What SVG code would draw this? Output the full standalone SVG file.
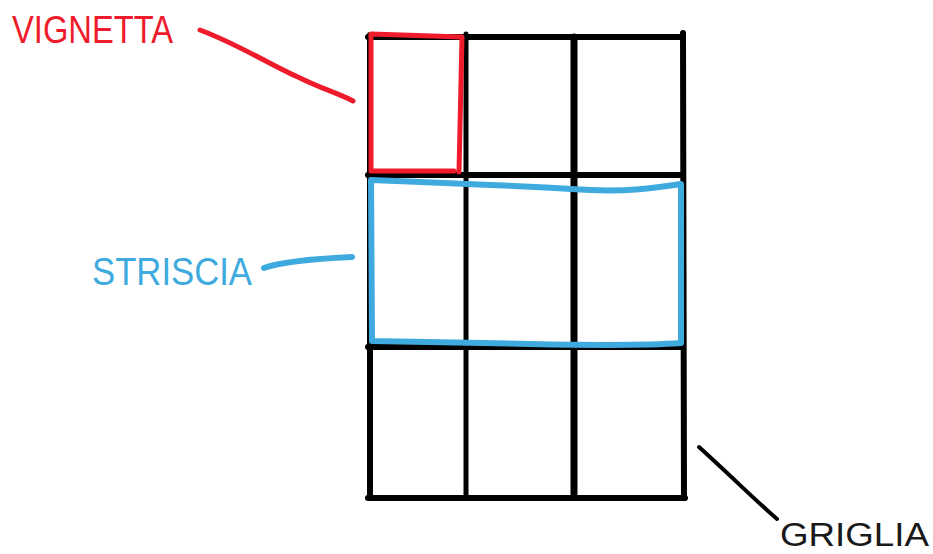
<svg xmlns="http://www.w3.org/2000/svg" width="933" height="554" viewBox="0 0 933 554">
<style>
.g{stroke:#000;fill:none;stroke-linecap:round}
.lbl{font-family:"Liberation Sans","DejaVu Sans",sans-serif;font-weight:normal}
.red{stroke:#ee1c2b;fill:none;stroke-linecap:round;stroke-linejoin:round}
.blue{stroke:#3faade;fill:none;stroke-linecap:round;stroke-linejoin:round}
</style>
<rect width="933" height="554" fill="#fff"/>
<g id="griglia">
<path class="g" stroke-width="6" d="M368 37 L683 37"/>
<path class="g" stroke-width="6" d="M368 175 L683 175"/>
<path class="g" stroke-width="6" d="M368 347 L683 347"/>
<path class="g" stroke-width="6" d="M368 498 L685 498"/>
<path class="g" stroke-width="6" d="M370 35 L370 498"/>
<path class="g" stroke-width="5" d="M466 34 L466 496"/>
<path class="g" stroke-width="7" d="M574 37 L574 494"/>
<path class="g" stroke-width="6" d="M683 33 L684 498"/>
</g>
<g id="vignetta-box">
<path class="red" stroke-width="5" d="M371 34 L462 37 L459 172 M371 34 L371 171 L454 171"/>
</g>
<g id="striscia-box">
<path class="blue" stroke-width="6" d="M371 180 C450 183 520 186 590 190 C630 192 660 187 681 184 L681 343 C640 346 580 345 530 344 C470 343 420 342 372 341 L371 180"/>
</g>
<g id="connectors">
<path class="red" stroke-width="5" d="M200 30 C240 45 270 65 300 78 C320 88 340 94 353 101"/>
<path class="blue" stroke-width="6" d="M264 268 C280 262 310 259 352 257"/>
<path class="g" stroke-width="4" d="M699 447 C730 475 755 500 777 519"/>
</g>
<g id="label-vignetta"><text class="lbl" x="12" y="43" font-size="38" fill="#ee1c2b" textLength="161" lengthAdjust="spacingAndGlyphs">VIGNETTA</text></g>
<g id="label-striscia"><text class="lbl" x="92" y="285" font-size="38" fill="#3faade" textLength="160" lengthAdjust="spacingAndGlyphs">STRISCIA</text></g>
<g id="label-griglia"><text class="lbl" x="780" y="546" font-size="33" fill="#1a1a1a" textLength="149" lengthAdjust="spacingAndGlyphs">GRIGLIA</text></g>
</svg>
